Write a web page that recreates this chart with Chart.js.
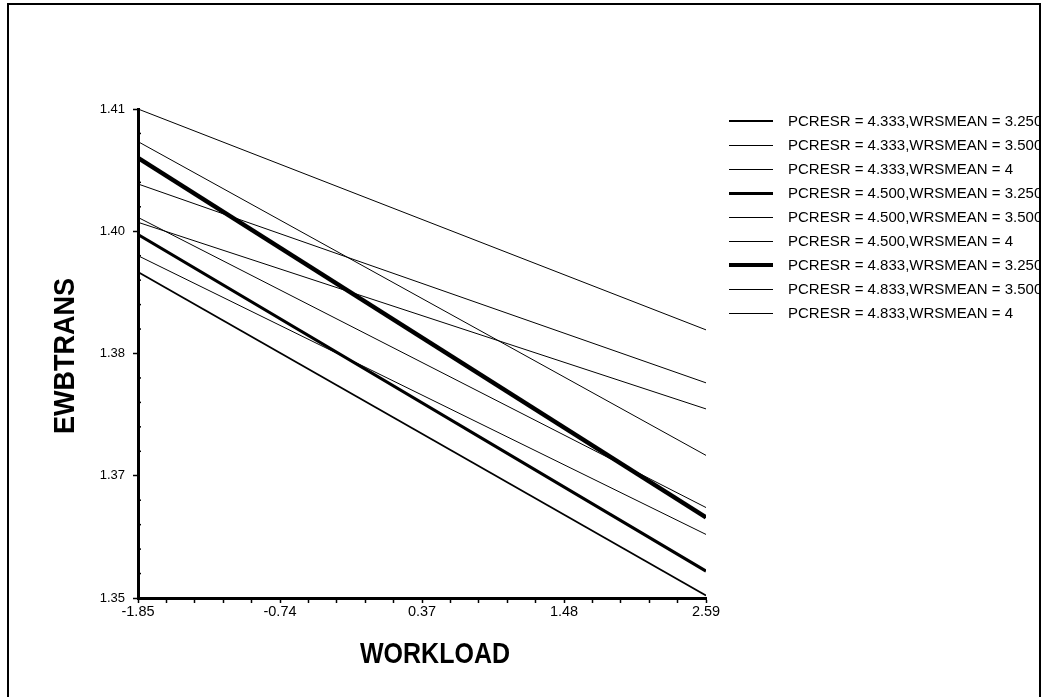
<!DOCTYPE HTML><html>
<head>
  <meta name="viewport" content="width=device-width, initial-scale=1">
  <script src="https://cdn.jsdelivr.net/npm/chart.js"></script>
  <style>
    html, body {
      margin: 0;
      padding: 0;
      background: #fff;
      font-family: 'Liberation Sans', Arial, sans-serif;
    }
    #wrap { position: relative; width: 1046px; height: 697px; overflow: hidden; }
    #frame {
      position: absolute; left: 7px; top: 3px; width: 1034px; height: 720px;
      border: 2px solid #000; box-sizing: border-box;
    }
    canvas { position: absolute; left: 0; top: 0; }
    .axis-title { position: absolute; font-weight: bold; color: #000; white-space: nowrap; }
    #ytitle { left: 64px; top: 356px; font-size: 27px; transform: translate(-50%, -50%) rotate(-90deg) scaleY(1.12); }
    #xtitle { left: 435px; top: 653px; font-size: 25px; transform: translate(-50%, -50%) scaleY(1.15); }
    #legend { position: absolute; left: 729px; top: 109px; width: 310px; overflow: hidden; }
    .row { position: relative; height: 24px; }
    .sample { position: absolute; left: 0; width: 44px; background: #000; }
    .label { position: absolute; left: 59px; top: 4px; font-size: 15px; color: #000; white-space: nowrap; line-height: 16px; }
  </style>
</head>
<body>
<div id="wrap">
  <canvas id="plot" width="1046" height="697"></canvas>
  <div id="frame"></div>
  <div class="axis-title" id="ytitle">EWBTRANS</div>
  <div class="axis-title" id="xtitle">WORKLOAD</div>
  <div id="legend"></div>
</div>
<script>
  // x values where each fitted line is drawn
  const workload = [-1.85, 2.59];

  // EWBTRANS at low / high workload, one per PCRESR x WRSMEAN combination
  const pc4333_w3250 = [1.3900, 1.3503];
  const pc4333_w3500 = [1.3920, 1.3578];
  const pc4333_w4 = [1.3961, 1.3732];
  const pc4500_w3250 = [1.3946, 1.3533];
  const pc4500_w3500 = [1.3967, 1.3611];
  const pc4500_w4 = [1.4008, 1.3764];
  const pc4833_w3250 = [1.4040, 1.3599];
  const pc4833_w3500 = [1.4060, 1.3675];
  const pc4833_w4 = [1.4100, 1.3829];

  const seriesNames = [
    'PCRESR = 4.333,WRSMEAN = 3.250',
    'PCRESR = 4.333,WRSMEAN = 3.500',
    'PCRESR = 4.333,WRSMEAN = 4',
    'PCRESR = 4.500,WRSMEAN = 3.250',
    'PCRESR = 4.500,WRSMEAN = 3.500',
    'PCRESR = 4.500,WRSMEAN = 4',
    'PCRESR = 4.833,WRSMEAN = 3.250',
    'PCRESR = 4.833,WRSMEAN = 3.500',
    'PCRESR = 4.833,WRSMEAN = 4'
  ];
  const seriesValues = [pc4333_w3250, pc4333_w3500, pc4333_w4, pc4500_w3250, pc4500_w3500,
                        pc4500_w4, pc4833_w3250, pc4833_w3500, pc4833_w4];

  const xTickLabels = ['-1.85', '-0.74', '0.37', '1.48', '2.59'];
  const yTickLabels = ['1.35', '1.37', '1.38', '1.40', '1.41'];

  // line styles
  const lineWidths = [1.8, 1, 1, 3, 1, 1, 4.5, 1, 1];
  const legendWidths = [2, 1, 1, 3, 1, 1, 4, 1, 1];

  const datasets = seriesNames.map((name, i) => ({
    label: name,
    data: workload.map((x, j) => ({ x: x, y: seriesValues[i][j] })),
    borderColor: '#000',
    borderWidth: lineWidths[i],
    pointRadius: 0,
    fill: false,
    tension: 0
  }));

  // 4 minor ticks between every labelled tick
  function fiveSteps(scale) {
    const out = [];
    for (let i = 0; i <= 20; i++) {
      out.push({ value: scale.min + (scale.max - scale.min) * i / 20 });
    }
    scale.ticks = out;
  }

  // minor ticks on the y axis sit just inside the axis line
  const yMinorTicks = {
    id: 'yMinorTicks',
    afterDraw(chart) {
      const y = chart.scales.y;
      const c = chart.ctx;
      c.save();
      c.strokeStyle = '#000';
      c.lineWidth = 1.5;
      y.ticks.forEach((t, i) => {
        if (i % 5 === 0) return;
        const py = y.getPixelForValue(t.value);
        c.beginPath();
        c.moveTo(y.right, py);
        c.lineTo(y.right + 3, py);
        c.stroke();
      });
      c.restore();
    }
  };

  const ctx = document.getElementById('plot').getContext('2d');
  const chart = new Chart(ctx, {
    type: 'line',
    data: { datasets: datasets },
    plugins: [yMinorTicks],
    options: {
      responsive: false,
      animation: false,
      layout: { padding: { left: 0, top: 109, right: 340, bottom: 0 } },
      plugins: { legend: { display: false }, tooltip: { enabled: false } },
      scales: {
        x: {
          type: 'linear',
          min: -1.85,
          max: 2.59,
          afterBuildTicks: fiveSteps,
          afterFit: (s) => { s.height = 99; },
          grid: { drawOnChartArea: false, tickLength: 5, tickColor: '#000', tickWidth: 1.5 },
          border: { display: true, color: '#000', width: 3 },
          ticks: {
            autoSkip: false, maxRotation: 0, padding: 0, color: '#000',
            font: { family: "'Liberation Sans', Arial", size: 14.5 },
            callback: (v, i) => (i % 5 === 0 ? xTickLabels[i / 5] : '')
          }
        },
        y: {
          type: 'linear',
          min: 1.35,
          max: 1.41,
          afterBuildTicks: fiveSteps,
          afterFit: (s) => { s.width = 138; },
          grid: {
            drawOnChartArea: false, tickLength: 5, tickWidth: 1.5,
            tickColor: (c) => (c.index % 5 === 0 ? '#000' : 'rgba(0,0,0,0)')
          },
          border: { display: true, color: '#000', width: 3 },
          ticks: {
            autoSkip: false, padding: 8, color: '#000',
            font: { family: "'Liberation Sans', Arial", size: 13 },
            callback: (v, i) => (i % 5 === 0 ? yTickLabels[i / 5] : '')
          }
        }
      }
    }
  });

  // legend on the right, clipped by the frame like the original
  const legend = document.getElementById('legend');
  seriesNames.forEach((name, i) => {
    const row = document.createElement('div');
    row.className = 'row';
    const line = document.createElement('div');
    line.className = 'sample';
    line.style.height = legendWidths[i] + 'px';
    line.style.top = (12 - legendWidths[i] / 2) + 'px';
    const text = document.createElement('div');
    text.className = 'label';
    text.textContent = name;
    row.appendChild(line);
    row.appendChild(text);
    legend.appendChild(row);
  });
</script>
</body>
</html>
